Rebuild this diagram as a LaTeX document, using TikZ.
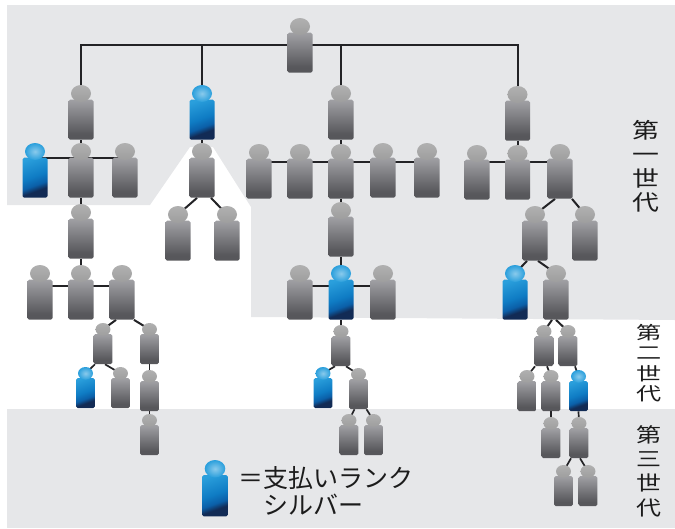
\documentclass[tikz,border=0pt]{standalone}
\usepackage{fontspec}
\newfontfamily\cjk{Noto Sans CJK JP}
\newfontfamily\cjkwide[FakeStretch=1.25]{Noto Sans CJK JP}
\newfontfamily\cjkwider[FakeStretch=1.4]{Noto Sans CJK JP}
\usetikzlibrary{shapes.geometric,calc}
\pgfdeclarelayer{bandlayer}
\pgfdeclarelayer{edgelayer}
\pgfsetlayers{bandlayer,edgelayer,main}
\definecolor{fgb}{HTML}{57575B}
\definecolor{fgt}{HTML}{A0A0A4}
\definecolor{fbd}{HTML}{122B55}
\definecolor{fbm}{HTML}{0B5FA8}
\definecolor{fbn}{HTML}{0F7CC4}
\definecolor{fbt}{HTML}{2A9FDC}
\definecolor{bandgray}{HTML}{E6E7E9}
\definecolor{linedark}{HTML}{232326}
\definecolor{txt}{HTML}{1C1C1C}
\pgfdeclareverticalshading{grayfig}{100bp}{color(0bp)=(fgb);color(25bp)=(fgb);color(32bp)=(fgb);color(75bp)=(fgt);color(100bp)=(fgt)}
\pgfdeclareverticalshading{bluefig}{100bp}{color(0bp)=(fbd);color(32bp)=(fbd);color(40bp)=(fbm);color(52bp)=(fbn);color(78bp)=(fbt);color(100bp)=(fbt)}
\lineskiplimit=-1000pt
\tikzset{
  bodyg/.style={rectangle,rounded corners=1.6pt,draw=none,inner sep=0pt,shading=grayfig},
  bodyb/.style={rectangle,rounded corners=1.6pt,draw=none,inner sep=0pt,shading=bluefig,shading angle=20},
  headg/.style={ellipse,draw=none,inner sep=0pt,top color=black!31!white,bottom color=black!38!white},
  headb/.style={ellipse,draw=none,inner sep=0pt,inner color=fbt!55!white,outer color=fbt},
  conn/.style={draw=linedark,line width=2pt},
  thin conn/.style={draw=linedark,line width=1.7pt},
  sidelabel/.style={text=txt,align=center,inner sep=0pt},
  legendtext/.style={text=txt,anchor=west,inner sep=0pt,font=\cjk\fontsize{25}{28}\selectfont}
}
% name, centre x, head top y, kind (g/b), scale
\newcommand\fig[5]{%
  \node[body#4,minimum width=#5*25pt,minimum height=#5*40pt,anchor=north] (#1) at (#2,{#3+#5*14.5}) {};
  \node[head#4,minimum width=#5*20pt,minimum height=#5*17pt] (#1h) at (#2,{#3+#5*8.5}) {};
}
\newcommand\vl[3]{\draw[conn] ($(#1.south)+(#3,0)$) -- (#2h.center);}
\newcommand\tl[3]{\draw[thin conn] ($(#1.south)+(#3,0)$) -- (#2h.center);}
\newcommand\hl[3]{\coordinate (hstart) at ($(#1.north)+(0,#3)$); \draw[conn] (hstart) -- (hstart -| #2.north);}
\begin{document}
\begin{tikzpicture}[x=1pt,y=-1pt]
\useasboundingbox (0,0) rectangle (675,528);
\begin{pgfonlayer}{bandlayer}
  \fill[bandgray] (7,5) -- (675,5) -- (675,320) -- (251,317) -- (251,207) -- (213,147) -- (190,147) -- (150,205) -- (7,205) -- cycle;
  \fill[bandgray] (7,409) -- (675,409) -- (675,528) -- (7,528) -- cycle;
\end{pgfonlayer}
% generation 1
\fig{root}{300}{18}{g}{1}
\fig{a}{81}{85}{g}{1}
\fig{b}{202}{85}{b}{1}
\fig{c}{341}{85}{g}{1}
\fig{d}{517.5}{86}{g}{1}
\fig{a1}{35}{143}{b}{1}
\fig{a2}{81}{143}{g}{1}
\fig{a3}{125}{143}{g}{1}
\fig{b1}{202}{143}{g}{1}
\fig{c1}{259}{144}{g}{1}
\fig{c2}{300}{144}{g}{1}
\fig{c3}{341}{144}{g}{1}
\fig{c4}{383}{143}{g}{1}
\fig{c5}{427}{143}{g}{1}
\fig{d1}{477}{145}{g}{1}
\fig{d2}{517.5}{145}{g}{1}
\fig{d3}{560}{144}{g}{1}
\fig{a4}{81}{204}{g}{1}
\fig{b2}{178}{206}{g}{1}
\fig{b3}{227}{206}{g}{1}
\fig{c6}{341}{202}{g}{1}
\fig{d4}{535}{206}{g}{1}
\fig{d5}{585}{206}{g}{1}
\fig{a5}{40}{265}{g}{1}
\fig{a6}{81}{265}{g}{1}
\fig{a7}{122}{265}{g}{1}
\fig{c7}{300}{265}{g}{1}
\fig{c8}{341}{265}{b}{1}
\fig{c9}{383}{265}{g}{1}
\fig{d6}{515}{265}{b}{1}
\fig{d7}{556}{265}{g}{1}
% generation 2
\fig{e1}{103}{323}{g}{.75}
\fig{e2}{149.5}{323}{g}{.75}
\fig{e3}{85.5}{367}{b}{.75}
\fig{e4}{120.5}{367}{g}{.75}
\fig{e5}{149.5}{370}{g}{.75}
\fig{f1}{341}{325}{g}{.75}
\fig{f2}{323}{367}{b}{.75}
\fig{f3}{358.5}{368}{g}{.75}
\fig{g1}{544}{325}{g}{.75}
\fig{g2}{568}{325}{g}{.75}
\fig{g3}{527}{370}{g}{.75}
\fig{g4}{551}{370}{g}{.75}
\fig{g5}{578.5}{370}{b}{.75}
% generation 3
\fig{h1}{149.5}{414}{g}{.75}
\fig{h2}{349}{414}{g}{.75}
\fig{h3}{373.5}{414}{g}{.75}
\fig{h4}{551}{417}{g}{.75}
\fig{h5}{579}{417}{g}{.75}
\fig{h6}{563.5}{465}{g}{.75}
\fig{h7}{588}{465}{g}{.75}
% legend figure
\fig{leg}{215}{460}{b}{1.03}
\begin{pgfonlayer}{edgelayer}
  \coordinate (rootj) at (300,44.5);
  \draw[conn] (ah.center) |- (rootj) -| (dh.center);
  \draw[conn] (bh.center) -- (bh.center |- rootj);
  \draw[conn] (ch.center) -- (ch.center |- rootj);
  \vl{a}{a2}{0} \vl{a2}{a4}{0} \vl{a4}{a6}{0}
  \vl{b}{b1}{0} \vl{b1}{b2}{-5} \vl{b1}{b3}{9}
  \vl{c}{c3}{0} \vl{c3}{c6}{0} \vl{c6}{c8}{0} \vl{c8}{f1}{0}
  \vl{d}{d2}{0} \vl{d3}{d4}{-5} \vl{d3}{d5}{12}
  \vl{d4}{d6}{-8} \vl{d4}{d7}{3}
  \hl{a1}{a3}{0}
  \hl{c1}{c5}{3.5}
  \hl{d1}{d3}{2.5}
  \hl{a5}{a7}{6.5}
  \hl{c7}{c9}{6.5}
  \vl{a7}{e1}{-6} \vl{a7}{e2}{12}
  \vl{d7}{g1}{-4} \vl{d7}{g2}{0}
  \tl{e1}{e3}{-8} \tl{e1}{e4}{2}
  \tl{e2}{e5}{0} \tl{e5}{h1}{0}
  \tl{f1}{f2}{-6} \tl{f1}{f3}{5}
  \tl{f3}{h2}{-4} \tl{f3}{h3}{8}
  \tl{g1}{g3}{-9} \tl{g1}{g4}{3}
  \tl{g2}{g5}{7}
  \tl{g4}{h4}{0} \tl{g5}{h5}{0}
  \tl{h5}{h6}{-8} \tl{h5}{h7}{1}
\end{pgfonlayer}
% labels
\node[sidelabel,font=\cjkwide\fontsize{21.5}{24}\selectfont] (gen1) at (645.5,166) {第\\一\\世\\代};
\node[sidelabel,font=\cjkwider\fontsize{18}{20.5}\selectfont] (gen2) at (649,363) {第\\二\\世\\代};
\node[sidelabel,font=\cjkwide\fontsize{20}{24.4}\selectfont] (gen3) at (649,471) {第\\三\\世\\代};
\node[legendtext] (legA) at (238,478) {＝支払いランク};
\node[legendtext] (legB) at (263,505) {シルバー};
\end{tikzpicture}
\end{document}
